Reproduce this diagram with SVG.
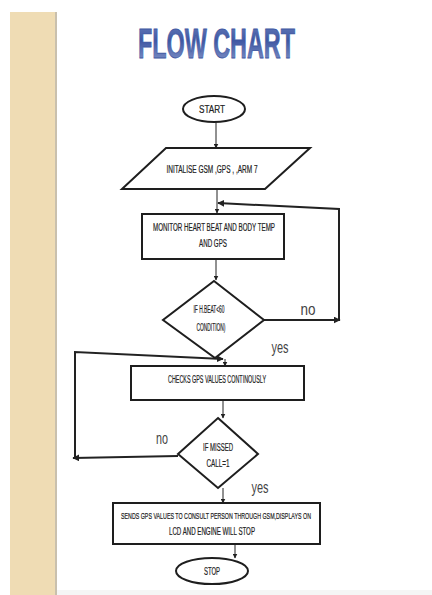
<svg xmlns="http://www.w3.org/2000/svg" width="432" height="595" viewBox="0 0 432 595">
<defs>
<linearGradient id="tg" x1="0" y1="0" x2="0" y2="1">
<stop offset="0" stop-color="#6d82bd"/>
<stop offset="0.45" stop-color="#3f58a3"/>
<stop offset="1" stop-color="#8b9bcc"/>
</linearGradient>
<marker id="ah" viewBox="0 0 10 10" refX="9" refY="5" markerWidth="5" markerHeight="5" orient="auto" markerUnits="userSpaceOnUse">
<path d="M0,0 L10,5 L0,10 z" fill="#222"/>
</marker>
<marker id="ahb" viewBox="0 0 10 10" refX="9" refY="5" markerWidth="7" markerHeight="7" orient="auto" markerUnits="userSpaceOnUse">
<path d="M0,0 L10,5 L0,10 z" fill="#222"/>
</marker>
</defs>
<style>
.shape{fill:#fff;stroke:#1e1e1e;stroke-width:2}
.t{font-family:"Liberation Sans Narrow","Liberation Sans",Arial,sans-serif;font-size:10px;fill:#222;text-anchor:middle;dominant-baseline:central;stroke:#222;stroke-width:0.2}
.lbl{font-family:"Liberation Sans Narrow","Liberation Sans",Arial,sans-serif;font-size:17px;fill:#444;text-anchor:middle;dominant-baseline:central}
.c{fill:none;stroke:#222;stroke-width:1}
.cb{fill:none;stroke:#222;stroke-width:2}
</style>
<rect x="0" y="0" width="432" height="595" fill="#fff"/>
<rect x="10" y="12" width="45" height="583" fill="#efdcb4"/>
<rect x="55" y="12" width="2" height="583" fill="#c9c0ad"/>
<rect x="57" y="590" width="375" height="5" fill="#f5f5f5"/>
<g id="title">
<text x="216.5" y="43" font-family="'Liberation Sans Narrow','Liberation Sans',Arial,sans-serif" font-weight="bold" font-size="42" fill="url(#tg)" stroke="#3f58a3" stroke-width="0.8" text-anchor="middle" dominant-baseline="central" textLength="157" lengthAdjust="spacingAndGlyphs">FLOW CHART</text>
</g>
<g id="connectors">
<line class="c" x1="216" y1="122" x2="216" y2="148" marker-end="url(#ah)"/>
<line class="c" x1="217" y1="189" x2="217" y2="213" marker-end="url(#ah)"/>
<polyline class="cb" points="339,320 339,209 218,203" marker-end="url(#ahb)"/>
<line class="c" x1="216" y1="259" x2="216" y2="280" marker-end="url(#ah)"/>
<line class="cb" x1="264" y1="320" x2="340" y2="320" marker-end="url(#ahb)"/>
<line class="c" x1="225" y1="359" x2="225" y2="366" marker-end="url(#ah)"/>
<line class="c" x1="223" y1="400" x2="223" y2="418" marker-end="url(#ah)"/>
<line class="cb" x1="178" y1="456" x2="73" y2="458" marker-end="url(#ahb)"/>
<polyline class="cb" points="75,458 75,352 223,359" marker-end="url(#ahb)"/>
<line class="c" x1="223" y1="488" x2="223" y2="503" marker-end="url(#ah)"/>
<line class="c" x1="235" y1="544" x2="235" y2="558" marker-end="url(#ah)"/>
</g>
<g id="start">
<ellipse class="shape" cx="214" cy="109" rx="31" ry="13"/>
<text class="t" x="212" y="109" textLength="26" lengthAdjust="spacingAndGlyphs">START</text>
</g>
<g id="init">
<polygon class="shape" points="166,148 310,148 265,189 122,189"/>
<text class="t" x="212" y="169" textLength="91" lengthAdjust="spacingAndGlyphs">INITALISE GSM ,GPS , ,ARM 7</text>
</g>
<g id="monitor">
<rect class="shape" x="142" y="214" width="142" height="45"/>
<text class="t" x="214" y="227" textLength="122" lengthAdjust="spacingAndGlyphs">MONITOR HEART BEAT AND BODY TEMP</text>
<text class="t" x="213" y="243" textLength="28" lengthAdjust="spacingAndGlyphs">AND GPS</text>
</g>
<g id="cond1">
<polygon class="shape" points="214,281 264,320 215,358 163,320"/>
<text class="t" x="209" y="309" textLength="31" lengthAdjust="spacingAndGlyphs">IF H.BEAT&lt;60</text>
<text class="t" x="211" y="327" textLength="29" lengthAdjust="spacingAndGlyphs">CONDITION)</text>
</g>
<text class="lbl" x="308" y="309" textLength="15" lengthAdjust="spacingAndGlyphs">no</text>
<text class="lbl" x="280" y="347" textLength="17" lengthAdjust="spacingAndGlyphs">yes</text>
<g id="checks">
<rect class="shape" x="131" y="366" width="173" height="34"/>
<text class="t" x="217" y="379" textLength="98" lengthAdjust="spacingAndGlyphs">CHECKS GPS VALUES CONTINOUSLY</text>
</g>
<g id="cond2">
<polygon class="shape" points="218,418 258,454 218,488 178,454"/>
<text class="t" x="218" y="447" textLength="30" lengthAdjust="spacingAndGlyphs">IF MISSED</text>
<text class="t" x="218" y="463" textLength="23" lengthAdjust="spacingAndGlyphs">CALL=1</text>
</g>
<text class="lbl" x="162" y="438" textLength="12" lengthAdjust="spacingAndGlyphs">no</text>
<text class="lbl" x="260" y="487" textLength="17" lengthAdjust="spacingAndGlyphs">yes</text>
<g id="sends">
<rect class="shape" x="113" y="503" width="207" height="41"/>
<text class="t" x="216" y="516" font-size="8.5" textLength="190" lengthAdjust="spacingAndGlyphs" style="font-size:8.5px">SENDS GPS VALUES TO CONSULT PERSON THROUGH GSM,DISPLAYS ON</text>
<text class="t" x="212" y="531" textLength="86" lengthAdjust="spacingAndGlyphs">LCD AND ENGINE WILL STOP</text>
</g>
<g id="stop">
<ellipse class="shape" cx="212" cy="571" rx="36" ry="13"/>
<text class="t" x="212" y="571" textLength="16" lengthAdjust="spacingAndGlyphs">STOP</text>
</g>
</svg>
